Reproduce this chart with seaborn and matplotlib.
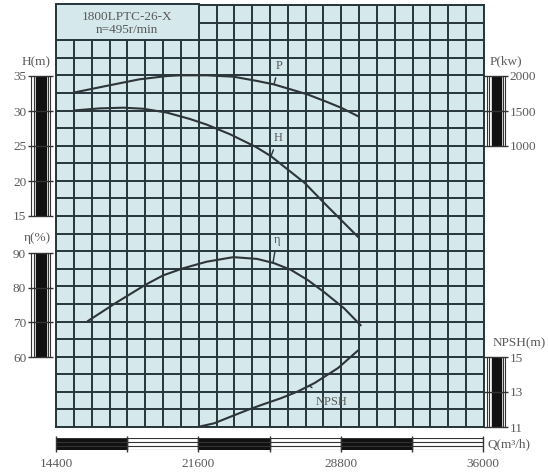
import numpy as np
import seaborn as sns
import matplotlib.pyplot as plt
from matplotlib.patches import Rectangle

sns.set_theme(style="white")
plt.rcParams['font.family'] = ['Liberation Serif', 'DejaVu Serif']

# Datos
q_p = [15300, 16900, 18600, 20000, 20650, 22000, 23350, 24550, 25400, 26250,
       27100, 28100, 28800, 29650]
p_kw = [1755, 1847, 1943, 1990, 2000, 2000, 1981, 1920, 1871, 1800,
        1728, 1619, 1538, 1418]

q_h = [15300, 16600, 17800, 18800, 20000, 21150, 22000, 23200, 24500, 25250,
       26100, 26950, 27950, 28800, 29650]
h_m = [30.0, 30.3, 30.4, 30.25, 29.7, 28.8, 28.0, 26.6, 24.8, 23.5,
       21.6, 19.7, 16.8, 14.4, 12.0]

q_eta = [16000, 17450, 18900, 19800, 20800, 22000, 23350, 24550, 25400, 26250,
         27100, 27900, 28950, 29780]
eta = [70.1, 75.4, 80.4, 83.1, 85.1, 87.0, 88.3, 87.8, 86.6, 84.7,
       81.8, 78.5, 73.7, 68.9]

q_npsh = [21550, 22380, 23220, 24070, 24910, 25760, 26600, 27450, 28630, 29650]
npsh = [11.0, 11.21, 11.59, 11.97, 12.31, 12.64, 13.02, 13.5, 14.35, 15.36]

q_ticks = [14400, 21600, 28800, 36000]
h_ticks = [15, 20, 25, 30, 35]
eta_ticks = [60, 70, 80, 90]
p_ticks = [1000, 1500, 2000]
npsh_ticks = [11, 13, 15]

titulo = ["1800LPTC-26-X", "n=495r/min"]

W, H = 548, 474
BG = '#d5e8ec'
LINE = '#27363c'
CURVE = '#2d3539'
TXT = '#5a5a5a'


def caja(x0, y0, x1, y1):
    return [x0 / W, 1 - y1 / H, (x1 - x0) / W, (y1 - y0) / H]


fig = plt.figure(figsize=(W / 100, H / 100), dpi=100)
fig.patch.set_facecolor('white')

# Cuadricula principal (unidades de celda en y)
ax = fig.add_axes(caja(56, 5, 484, 427))
ax.set_facecolor(BG)
ax.set_xlim(14400, 36000)
ax.set_ylim(0, 24)
ax.set_xticks(np.arange(14400, 36001, 900))
ax.set_yticks(np.arange(0, 25, 1))
ax.grid(True, color=LINE, lw=1.4)
ax.tick_params(length=0, labelbottom=False, labelleft=False)
for s in ax.spines.values():
    s.set_color(LINE)
    s.set_linewidth(1.4)
ax.add_patch(Rectangle((14400, 22), 7200, 2.05, facecolor=BG, edgecolor=LINE,
                       lw=1.4, zorder=3, clip_on=False))
ax.text(18000, 23.3, titulo[0], ha='center', va='center', fontsize=9.5, color=TXT, zorder=4)
ax.text(18000, 22.55, titulo[1], ha='center', va='center', fontsize=9.5, color=TXT, zorder=4)


def eje_curva(lim):
    a = ax.twinx()
    a.set_ylim(*lim)
    a.set_axis_off()
    return a


axP = eje_curva((-3000, 3000))
axH = eje_curva((-15, 45))
axE = eje_curva((40, 160))
axN = eje_curva((11, 35))

kw = dict(color=CURVE, lw=1.5, sort=False)
sns.lineplot(x=q_p, y=p_kw, ax=axP, **kw)
sns.lineplot(x=q_h, y=h_m, ax=axH, **kw)
sns.lineplot(x=q_eta, y=eta, ax=axE, **kw)
sns.lineplot(x=q_npsh, y=npsh, ax=axN, **kw)

arr = dict(arrowstyle='-', color=CURVE, lw=1.0, shrinkA=2, shrinkB=0)
axP.annotate('P', xy=(25400, 1871), xytext=(25650, 2135), ha='center', va='center',
             fontsize=9, color=TXT, arrowprops=arr)
axH.annotate('H', xy=(25250, 23.5), xytext=(25600, 26.1), ha='center', va='center',
             fontsize=9, color=TXT, arrowprops=arr)
axE.annotate('η', xy=(25350, 86.7), xytext=(25550, 93.2), ha='center', va='center',
             fontsize=9, color=TXT, arrowprops=arr)
axN.annotate('NPSH', xy=(27180, 13.35), xytext=(28300, 12.43), ha='center', va='center',
             fontsize=9, color=TXT, arrowprops=dict(arrowstyle='-', color=CURVE, lw=1.0,
                                                    shrinkA=6, shrinkB=0))


def barra_vertical(rect, lim, ticks, lado):
    b = fig.add_axes(rect)
    b.set_xlim(0, 1)
    b.set_ylim(*lim)
    b.axvspan(0.3, 0.72, color='#111111')
    for xv in [0.1, 0.2, 0.82, 0.92]:
        b.axvline(xv, color='#333333', lw=0.8)
    b.hlines(ticks, -0.05, 1.05, color='#333333', lw=1.0, clip_on=False)
    b.set_yticks(ticks)
    b.set_yticklabels([str(t) for t in ticks], fontsize=9.5, color=TXT)
    b.tick_params(length=0, pad=2)
    if lado == 'right':
        b.yaxis.tick_right()
    b.set_xticks([])
    for s in b.spines.values():
        s.set_visible(False)
    return b


b1 = barra_vertical(caja(29, 76, 52, 216), (15, 35), h_ticks, 'left')
fig.text(36 / W, 1 - 62 / H, 'H(m)', ha='center', va='center', fontsize=9.5, color=TXT)
b2 = barra_vertical(caja(29, 253, 52, 357), (60, 90), eta_ticks, 'left')
fig.text(37 / W, 1 - 238 / H, 'η(%)', ha='center', va='center', fontsize=9.5, color=TXT)
b3 = barra_vertical(caja(485, 76, 507, 146), (1000, 2000), p_ticks, 'right')
fig.text(506 / W, 1 - 61 / H, 'P(kw)', ha='center', va='center', fontsize=9.5, color=TXT)
b4 = barra_vertical(caja(485, 357, 507, 427), (11, 15), npsh_ticks, 'right')
fig.text(519 / W, 1 - 343 / H, 'NPSH(m)', ha='center', va='center', fontsize=9.5, color=TXT)

# Barra de caudal
bq = fig.add_axes(caja(56, 438, 483, 450))
bq.set_xlim(14400, 36000)
bq.set_ylim(0, 1)
for x0 in [14400, 21600, 28800]:
    bq.axvspan(x0, x0 + 3600, color='#111111')
bq.hlines([0.02, 0.3, 0.7, 0.98], 14400, 36000, color='#333333', lw=0.8)
bq.vlines(np.arange(14400, 36001, 3600), -0.15, 1.15, color='#333333', lw=1.0, clip_on=False)
bq.set_xticks(q_ticks)
bq.set_xticklabels([str(t) for t in q_ticks], fontsize=9.5, color=TXT)
bq.tick_params(length=0, pad=6)
bq.set_yticks([])
for s in bq.spines.values():
    s.set_visible(False)
bq.text(1.01, 0.5, 'Q(m³/h)', transform=bq.transAxes, ha='left', va='center',
        fontsize=9.5, color=TXT)

fig.savefig('out.png', dpi=100)
